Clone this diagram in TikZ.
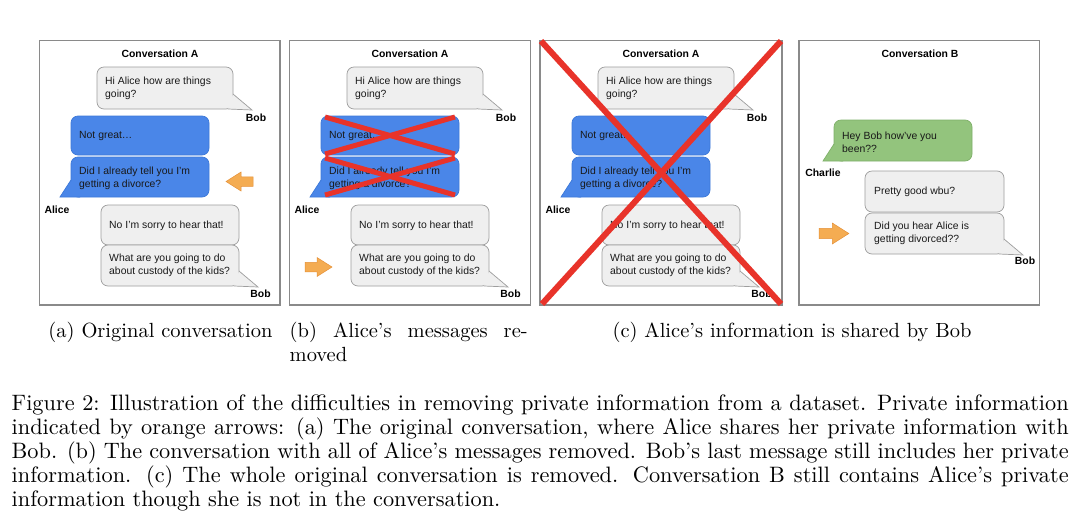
\documentclass[tikz,border=0pt]{standalone}
\usepackage{fontspec}
\setsansfont{Liberation Sans}
\newfontfamily\capfont{lmroman10-regular}[Extension=.otf, Ligatures=TeX]
\usetikzlibrary{shapes.arrows}
\definecolor{bubgray}{HTML}{EFEFEF}
\definecolor{bubedge}{HTML}{9E9E9E}
\definecolor{bubblue}{HTML}{4A86E8}
\definecolor{bubblueedge}{HTML}{3C78D8}
\definecolor{bubgreen}{HTML}{93C47D}
\definecolor{bubgreenedge}{HTML}{7FB069}
\definecolor{arrorange}{HTML}{F4AC52}
\definecolor{arredge}{HTML}{E69138}
\definecolor{xred}{HTML}{E8332A}
\definecolor{panelgray}{HTML}{8A8A8A}
\tikzset{
 grayb/.style={fill=bubgray, draw=bubedge, line width=0.7pt},
 blueb/.style={fill=bubblue, draw=bubblueedge, line width=0.7pt},
 greenb/.style={fill=bubgreen, draw=bubgreenedge, line width=0.7pt},
 btxt/.style={font=\fontsize{10.4}{13}\sffamily, align=left, anchor=west, inner sep=0pt, text=black!90},
 who/.style={font=\fontsize{10.4}{13}\sffamily\bfseries, inner sep=0pt},
 convtitle/.style={font=\fontsize{10.4}{13}\sffamily\bfseries, inner sep=0pt},
 panel/.style={draw=panelgray, line width=1.4pt},
 redx/.style={draw=xred, line width=5pt},
 bigx/.style={draw=xred, line width=6pt},
 oarrow/.style={fill=arrorange, draw=arredge, line width=0.5pt},
 capf/.style={font=\capfont\fontsize{20.5}{24}\selectfont, inner sep=0pt},
}
\newcommand\bubR[5]{%
 \draw[#5,rounded corners=7pt] (#1,#2) rectangle (#3,#4);
 \fill[#5,draw=none] (#3,#4-15) -- (#3+19,#4+1) -- (#3-5,#4) -- cycle;
 \draw[#5,fill=none] (#3,#4-15) -- (#3+19,#4+1) -- (#3-5,#4);}
\newcommand\bubL[5]{%
 \draw[#5,rounded corners=7pt] (#1,#2) rectangle (#3,#4);
 \fill[#5,draw=none] (#1,#4-17) -- (#1-11,#4) -- (#1+9,#4) -- cycle;
 \draw[#5,fill=none] (#1,#4-17) -- (#1-11,#4) -- (#1+9,#4);}
% block arrow: centre x, centre y, direction (1 right, -1 left), scale
\newcommand\oarr[4]{%
 \begin{scope}[shift={(#1,#2)}, xscale=#3, scale=#4]
 \draw[oarrow] (-13.5,-4.75) -- (-1.5,-4.75) -- (-1.5,-9.5) -- (13.5,0)
   -- (-1.5,9.5) -- (-1.5,4.75) -- (-13.5,4.75) -- cycle;
 \end{scope}}
\newcommand\convA[1]{%
 \node[convtitle] (#1title) at (160,54) {Conversation A};
 \bubR{97}{67}{233}{109}{grayb}
 \node[btxt] (#1m1) at (105,88.5) {Hi Alice how are things\\going?};
 \node[who] (#1bob1) at (256,118) {Bob};
 \draw[blueb, rounded corners=7pt] (71,116) rectangle (209,155);
 \node[btxt] (#1m2) at (79,135.5) {Not great…};
 \bubL{71}{157}{209}{197}{blueb}
 \node[btxt] (#1m3) at (79,178) {Did I already tell you I'm\\getting a divorce?};
 \node[who] (#1alice) at (57,210) {Alice};
 \draw[grayb, rounded corners=7pt] (101,205) rectangle (239,245);
 \node[btxt] (#1m4) at (109,225.5) {No I'm sorry to hear that!};
 \bubR{101}{245}{239}{286}{grayb}
 \node[btxt] (#1m5) at (109,265) {What are you going to do\\about custody of the kids?};
 \node[who] (#1bob2) at (260.5,294) {Bob};
}
\begin{document}
\begin{tikzpicture}[x=1pt,y=-1pt]
\useasboundingbox[fill=white] (0,0) rectangle (1080,531);
% panel boxes
\draw[panel] (39.5,40.5) rectangle (280,305);
\draw[panel] (289.5,40.5) rectangle (530.5,305);
\draw[panel] (540,40.5) rectangle (782,305);
\draw[panel] (799,40.5) rectangle (1039.5,305);
% (a)
\convA{a}
\oarr{239.5}{181.5}{-1}{1}
% (b)
\begin{scope}[xshift=250pt]
\convA{b}
\end{scope}
\oarr{318.5}{267}{1}{1}
\draw[redx] (325,117) -- (455,154);
\draw[redx] (325,154) -- (455,117);
\draw[redx] (325,158) -- (455,195);
\draw[redx] (325,195) -- (455,158);
% (c) left
\begin{scope}[xshift=501pt]
\convA{c}
\end{scope}
\draw[bigx] (541,41) -- (781,304);
\draw[bigx] (781,41) -- (542,304);
% (c) right
\node[convtitle] (dtitle) at (920,54) {Conversation B};
\bubL{834}{120}{972}{161}{greenb}
\node[btxt] (dm1) at (842,142) {Hey Bob how've you\\been??};
\node[who] (dcharlie) at (823,173) {Charlie};
\draw[grayb, rounded corners=7pt] (865,171) rectangle (1004,212);
\node[btxt] (dm2) at (874,192) {Pretty good wbu?};
\bubR{865}{213}{1004}{254}{grayb}
\node[btxt] (dm3) at (874,233.5) {Did you hear Alice is\\getting divorced??};
\node[who] (dbob) at (1025,261) {Bob};
\oarr{834}{233.5}{1}{1.1}
% sub-captions
\node[capf, anchor=base] (sa) at (160.5,337) {(a) Original conversation};
\node[capf, anchor=base west] (sb) at (289.5,337) {\parbox[t]{238pt}{\capfont\fontsize{20.5}{24}\selectfont (b) Alice's messages re-\linebreak moved}};
\node[capf, anchor=base] (sc) at (792,337) {(c) Alice's information is shared by Bob};
% caption
\node[capf, anchor=base west] (cap) at (11.5,410) {\parbox[t]{1057pt}{\capfont\fontsize{22.3}{24}\selectfont
Figure 2: Illustration of the difficulties in removing private information from a dataset. Private information\linebreak
indicated by orange arrows: (a) The original conversation, where Alice shares her private information with\linebreak
Bob. (b) The conversation with all of Alice's messages removed. Bob's last message still includes her private\linebreak
information. (c) The whole original conversation is removed. Conversation B still contains Alice's private\linebreak
information though she is not in the conversation.}};
\end{tikzpicture}
\end{document}
